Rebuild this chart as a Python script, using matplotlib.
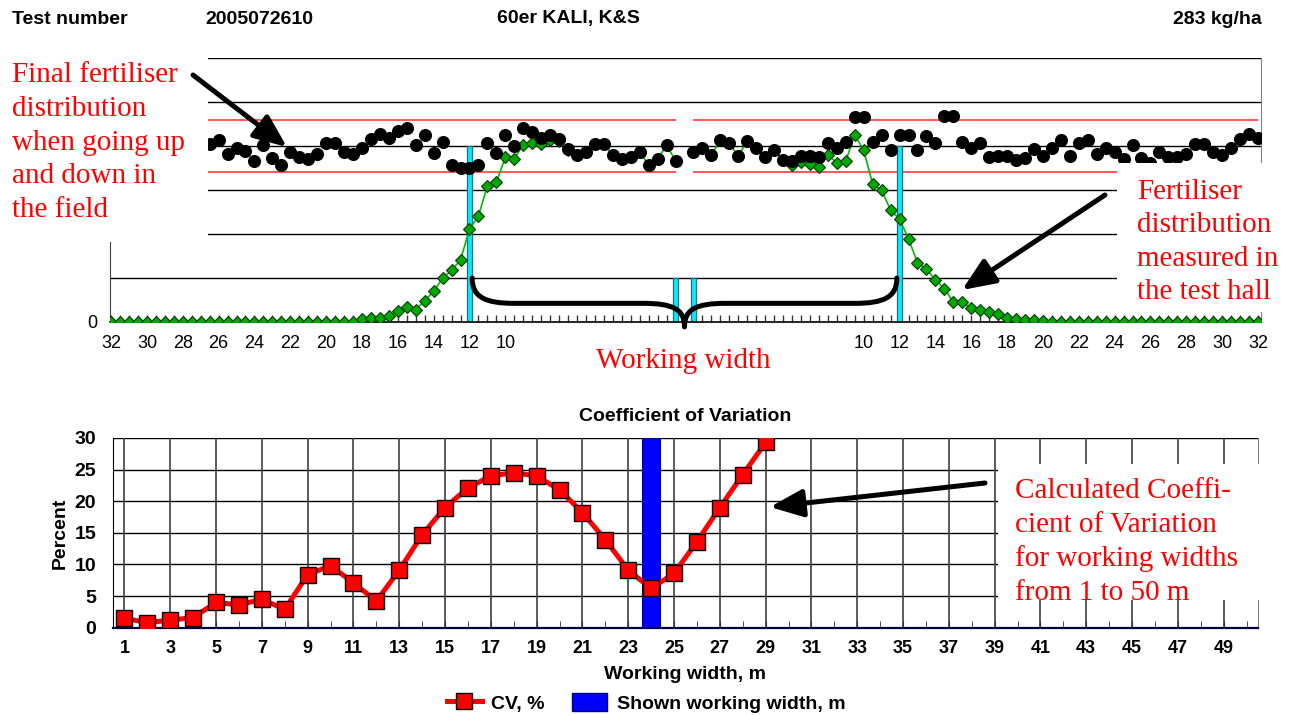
import numpy as np
import matplotlib
matplotlib.use("Agg")
import matplotlib.pyplot as plt
from matplotlib.patches import Rectangle, FancyArrowPatch, PathPatch, Patch
from matplotlib.path import Path
from matplotlib.lines import Line2D
from matplotlib.ticker import MultipleLocator, FixedLocator
from matplotlib.font_manager import FontProperties

# ---------------- data ----------------
header_left = "Test number"
header_test = "2005072610"
header_product = "60er KALI, K&S"
header_rate = "283 kg/ha"

# overlapped field distribution (black dots), % of mean, every 0.5 m
field_left_x = np.arange(-26.5, -0.25, 0.5)
field_left = [101.1, 103.4, 95.3, 99.0, 97.0, 91.7, 100.6, 93.0, 89.2, 96.8,
              93.6, 92.6, 95.3, 101.5, 101.5, 96.8, 95.3, 98.7, 104.0, 106.8,
              104.5, 108.7, 110.0, 100.6, 106.3, 95.8, 102.1, 89.0, 87.3, 87.3,
              89.2, 101.9, 95.8, 106.3, 100.0, 110.0, 108.1, 104.7, 106.3, 103.8,
              98.3, 94.9, 96.8, 101.1, 101.1, 94.9, 92.6, 93.6, 96.8, 89.0,
              92.6, 100.4, 91.7]
field_right_x = np.arange(0.5, 32.25, 0.5)
field_right = [96.4, 98.7, 94.9, 103.4, 101.5, 94.3, 103.0, 98.7, 93.9, 97.7,
               92.0, 91.7, 94.3, 94.3, 93.9, 101.5, 98.7, 102.1, 116.7, 116.7,
               102.0, 106.5, 97.7, 106.5, 106.5, 97.7, 105.7, 101.9, 117.0, 117.0,
               102.3, 98.7, 101.5, 93.6, 94.6, 94.6, 91.8, 93.0, 98.1, 94.3,
               98.7, 103.2, 94.5, 101.5, 103.2, 95.5, 98.7, 96.8, 92.4, 100.8,
               93.0, 90.3, 96.8, 93.6, 93.6, 95.4, 101.3, 101.3, 96.8, 95.1,
               98.7, 103.8, 106.8, 104.7]

# single pass measured in the test hall (green diamonds), -32 .. 32 m every 0.5 m
hall_x = np.arange(-32.0, 32.25, 0.5)
hall = ([0.0] * 28 +
        [1.5, 2.0, 2.5, 3.6, 6.3, 8.7, 7.0, 12.1, 17.4, 24.8, 29.3, 35.2,
         52.7, 60.2, 77.3, 79.3, 93.6, 92.8, 100.8, 101.7, 101.3, 103.4, 103.0, 98.0] +
        [94.9, 96.8, 101.1, 101.1, 94.9, 92.6, 93.6, 96.8, 89.0, 92.6, 100.4, 91.7] +
        [np.nan] +
        [96.4, 98.7, 94.9, 103.4, 101.5, 94.3, 103.0, 98.7, 93.9, 97.7, 92.0] +
        [89.2, 91.0, 89.8, 88.3, 94.9, 90.5, 91.5, 106.3, 97.5, 78.4, 74.8, 63.6,
         58.4, 47.4, 33.6, 30.0, 24.0, 19.0, 11.3, 11.3, 7.8, 7.0, 5.4, 4.5,
         2.1, 1.8, 1.4, 1.0, 0.6] +
        [0.0] * 24)

limits = [85, 115]
marker_x = [-12, -0.5, 0.5, 12]
marker_h = [100, 25, 25, 100]
top_tick_pos = [-32, -30, -28, -26, -24, -22, -20, -18, -16, -14, -12, -10,
                10, 12, 14, 16, 18, 20, 22, 24, 26, 28, 30, 32]
top_tick_lab = ["32", "30", "28", "26", "24", "22", "20", "18", "16", "14", "12", "10",
                "10", "12", "14", "16", "18", "20", "22", "24", "26", "28", "30", "32"]

cv_width = np.arange(1, 30)
cv = [1.5, 0.8, 1.2, 1.6, 4.0, 3.6, 4.5, 2.9, 8.4, 9.8, 7.1, 4.2, 9.1, 14.7,
      19.0, 22.1, 24.0, 24.5, 24.0, 21.8, 18.2, 13.9, 9.1, 6.2, 8.6, 13.6,
      19.0, 24.2, 29.3]
shown_width = [24]
shown_value = [30]

# ---------------- figure ----------------
W, H = 1291, 715
fig = plt.figure(figsize=(W / 100, H / 100), dpi=100)
fig.patch.set_facecolor("white")
SANS = "Liberation Sans"
SERIF = "Liberation Serif"


def fx(px):
    return px / W


def fy(py):
    return 1 - py / H


# ---- top chart ----
ax1 = fig.add_axes([fx(110), fy(322), fx(1261) - fx(110), fy(58) - fy(322)])
ax1.set_xlim(-32.06, 32.17)
ax1.set_ylim(0, 150)
for yv in range(25, 151, 25):
    ax1.axhline(yv, color="black", lw=1.0, zorder=1)
for lv in limits:
    ax1.hlines(lv, -32.06, -0.5, color="#FF5555", lw=1.4, zorder=1.5)
    ax1.hlines(lv, 0.5, 32.0, color="#FF5555", lw=1.4, zorder=1.5)
ax1.bar(marker_x, marker_h, width=0.32, color="#00EEFF", edgecolor="#1E6E86",
        lw=0.9, zorder=2)
ax1.plot(hall_x, hall, color="#00BB00", lw=1.2, marker="D", ms=6,
         mfc="#00A800", mec="#0A3A0A", mew=0.8, zorder=3)
ax1.plot(field_left_x, field_left, "o", color="black", ms=8.4, zorder=4)
ax1.plot(field_right_x, field_right, "o", color="black", ms=8.4, zorder=4)

# brace marking the working width
bv = [(-11.85, 25), (-11.85, 14), (-11.1, 10.6), (-9.5, 10.6),
      (-2.3, 10.6),
      (-0.6, 10.6), (0, 7), (0, -2.8),
      (0, 7), (0.6, 10.6), (2.3, 10.6),
      (9.5, 10.6),
      (11.1, 10.6), (11.85, 14), (11.85, 25)]
bc = [Path.MOVETO, Path.CURVE4, Path.CURVE4, Path.CURVE4,
      Path.LINETO,
      Path.CURVE4, Path.CURVE4, Path.CURVE4,
      Path.CURVE4, Path.CURVE4, Path.CURVE4,
      Path.LINETO,
      Path.CURVE4, Path.CURVE4, Path.CURVE4]
ax1.add_patch(PathPatch(Path(bv, bc), fill=False, lw=3.6, color="black",
                        capstyle="round", joinstyle="round", zorder=5, clip_on=False))

ax1.spines["top"].set_visible(False)
ax1.spines["left"].set_color("#404040")
ax1.spines["right"].set_color("#808080")
ax1.spines["bottom"].set_color("black")
ax1.spines["bottom"].set_linewidth(1.2)
ax1.xaxis.set_major_locator(FixedLocator(top_tick_pos))
ax1.set_xticklabels(top_tick_lab, fontfamily=SANS, fontsize=13)
ax1.xaxis.set_minor_locator(MultipleLocator(0.5))
ax1.tick_params(axis="x", which="both", direction="in", length=5, width=1,
                color="#333333", pad=9)
ax1.set_yticks([0])
ax1.set_yticklabels(["0"], fontfamily=SANS, fontsize=13)
ax1.tick_params(axis="y", length=0, pad=9)

# ---- bottom chart ----
ax2 = fig.add_axes([fx(113), fy(627.7), fx(1258) - fx(113), fy(438) - fy(627.7)])
ax2.set_xlim(0.5, 50.5)
ax2.set_ylim(0, 30)
for yv in range(5, 31, 5):
    ax2.axhline(yv, color="black", lw=1.0, zorder=1)
for xv in range(1, 50, 2):
    ax2.axvline(xv, color="#404040", lw=1.2, zorder=1)
ax2.bar(shown_width, shown_value, width=0.77, color="#0000FF",
        edgecolor="#000080", lw=0.8, zorder=2)
ax2.plot(cv_width, cv, color="#FF0000", lw=3.6, marker="s", ms=11,
         mfc="#FF0000", mec="black", mew=1.0, zorder=3)
ax2.spines["top"].set_visible(False)
ax2.spines["left"].set_color("black")
ax2.spines["right"].set_color("#808080")
ax2.spines["bottom"].set_color("#000040")
ax2.spines["bottom"].set_linewidth(1.6)
ax2.set_xticks(list(range(1, 50, 2)))
ax2.set_xticklabels([str(v) for v in range(1, 50, 2)], fontfamily=SANS,
                    fontsize=13, fontweight="bold")
ax2.xaxis.set_minor_locator(FixedLocator(list(range(2, 51, 2))))
ax2.tick_params(axis="x", which="both", direction="in", length=5, color="#333333", pad=9)
ax2.set_yticks(range(0, 31, 5))
ax2.set_yticklabels([str(v) for v in range(0, 31, 5)], fontfamily=SANS,
                    fontsize=14, fontweight="bold")
ax2.tick_params(axis="y", length=0, pad=12)
ax2.set_title("Coefficient of Variation", fontfamily=SANS, fontsize=14,
              fontweight="bold", pad=12)
ax2.set_xlabel("Working width, m", fontfamily=SANS, fontsize=14, fontweight="bold")
ax2.xaxis.set_label_coords(0.5, -0.2)
ax2.set_ylabel("Percent", fontfamily=SANS, fontsize=14, fontweight="bold")
ax2.yaxis.set_label_coords(-0.039, 0.5)

leg_handles = [Line2D([], [], color="#FF0000", lw=3.6, marker="s", ms=11,
                      mfc="#FF0000", mec="black", mew=1.0),
               Patch(facecolor="#0000FF", edgecolor="#000080")]
fig.legend(leg_handles, ["CV, %", "Shown working width, m"], loc="center",
           bbox_to_anchor=(fx(646), fy(703)), ncol=2, frameon=False,
           prop=FontProperties(family=SANS, size=14, weight="bold"),
           handlelength=1.8, handleheight=1.0, handletextpad=0.5,
           columnspacing=1.4, borderpad=0.1)

# ---- header ----
hp = dict(fontfamily=SANS, fontsize=14, fontweight="bold", va="center")
fig.text(fx(12), fy(19), header_left, ha="left", **hp)
fig.text(fx(205), fy(19), header_test, ha="left", **hp)
fig.text(fx(497), fy(19), header_product, ha="left", **hp)
fig.text(fx(1262), fy(19), header_rate, ha="right", **hp)


# ---- white text boxes covering chart parts ----
def white_box(x0, y0, x1, y1):
    fig.add_artist(Rectangle((fx(x0), fy(y1)), fx(x1) - fx(x0), fy(y0) - fy(y1),
                             transform=fig.transFigure, facecolor="white",
                             edgecolor="none", zorder=10))


white_box(0, 48, 208, 242)
white_box(1117, 163, 1291, 312)
white_box(998, 464, 1291, 600)


# ---- arrows ----
def arrow(x0, y0, x1, y1):
    fig.add_artist(FancyArrowPatch((fx(x0), fy(y0)), (fx(x1), fy(y1)),
                                   transform=fig.transFigure,
                                   arrowstyle="-|>,head_length=1.0,head_width=0.42",
                                   mutation_scale=20, lw=3.6, color="black",
                                   shrinkA=0, shrinkB=0, zorder=11))


arrow(193, 75, 287, 147)
arrow(1105, 195, 962, 290)
arrow(985, 483, 770, 507)

# ---- red annotations ----
rp = dict(fontfamily=SERIF, fontsize=21, color="#FF0000", linespacing=1.38,
          zorder=12)
fig.text(fx(12), fy(142.5), "Final fertiliser\ndistribution\nwhen going up\nand down in\nthe field",
         ha="left", va="center", **rp)
fig.text(fx(1137), fy(242), "Fertiliser\ndistribution\nmeasured in\nthe test hall",
         ha="left", va="center", **rp)
fig.text(fx(1015), fy(542), "Calculated Coeffi-\ncient of Variation\nfor working widths\nfrom 1 to 50 m",
         ha="left", va="center", **rp)
fig.text(fx(683), fy(361), "Working width", ha="center", va="center", **rp)

fig.savefig("out.png", dpi=100, facecolor="white")
